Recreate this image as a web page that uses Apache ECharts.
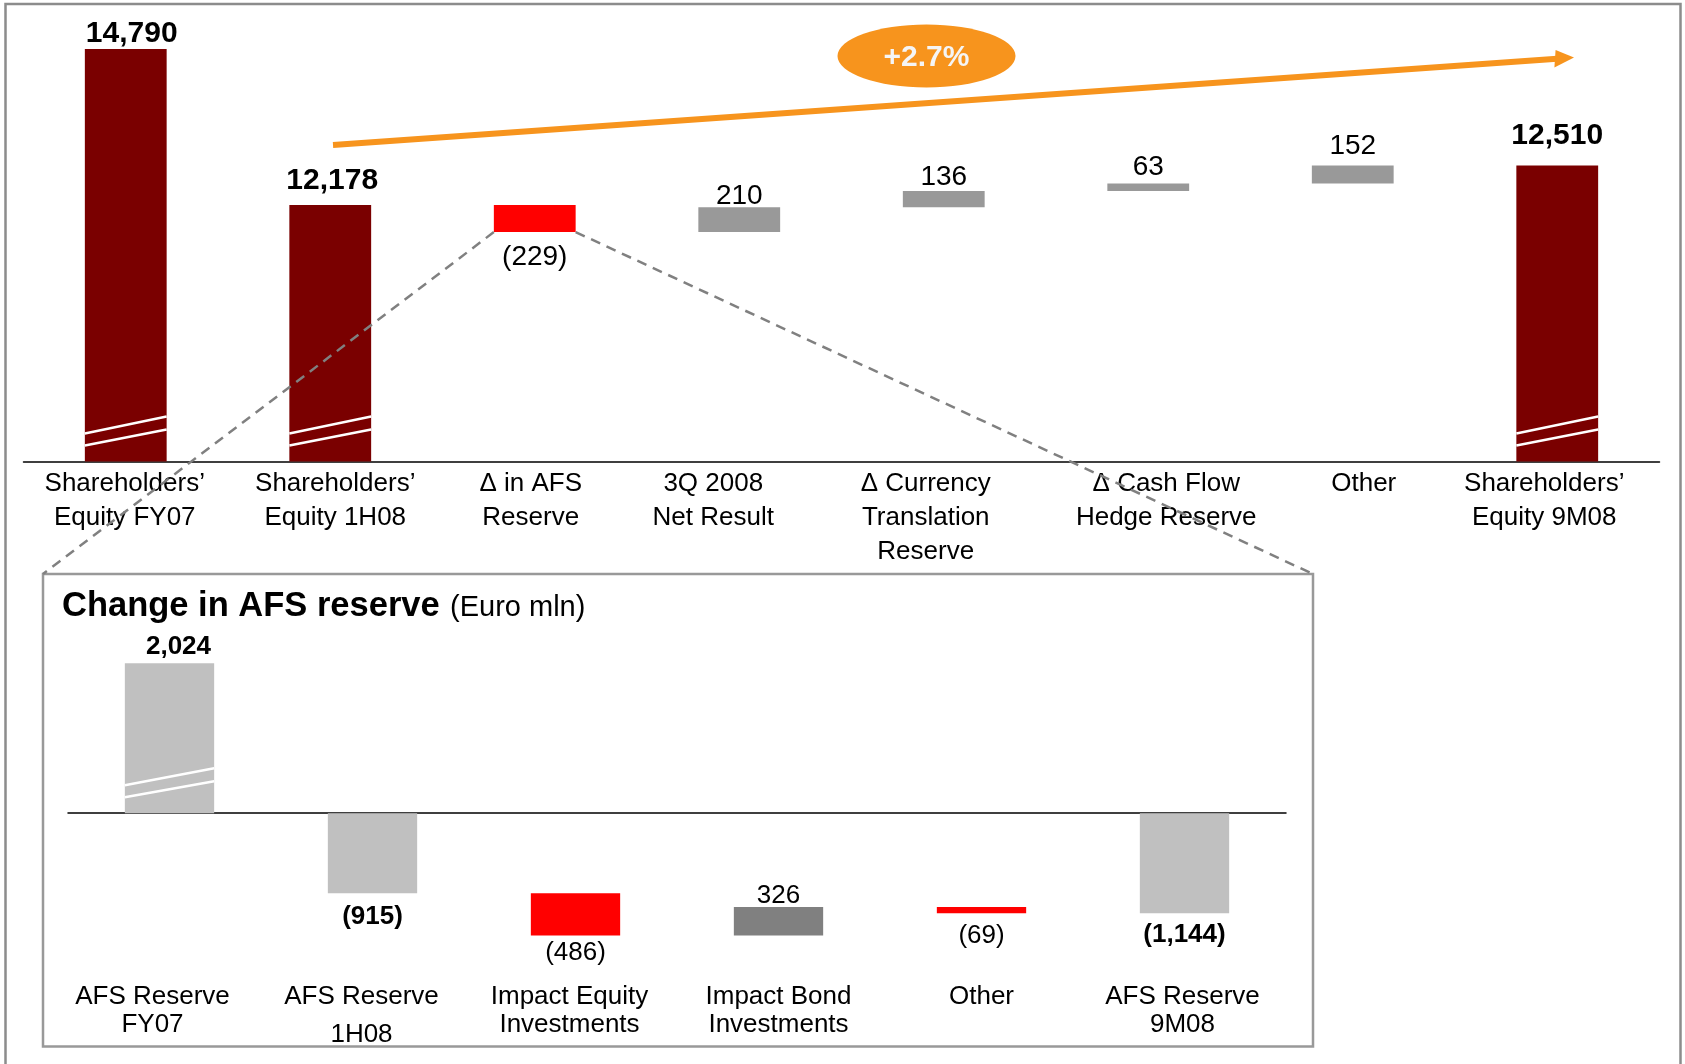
<!DOCTYPE html>
<html><head><meta charset="utf-8">
<script src="https://cdn.jsdelivr.net/npm/echarts@6.0.0/dist/echarts.min.js"></script>
<style>html,body{margin:0;padding:0;background:#fff}#c{width:1685px;height:1064px}</style>
</head><body><div id="c"></div>
<script>
// ---------- DATA ----------
const mainCategories = ['Shareholders’\nEquity FY07', 'Shareholders’\nEquity 1H08', 'Δ in AFS\nReserve', '3Q 2008\nNet Result', 'Δ Currency\nTranslation\nReserve', 'Δ Cash Flow\nHedge Reserve', 'Other', 'Shareholders’\nEquity 9M08'];
const mainValues = [14790, 12178, -229, 210, 136, 63, 152, 12510];
const mainIsTotal = [1, 1, 0, 0, 0, 0, 0, 1];

const afsCategories = ['AFS Reserve\nFY07', 'AFS Reserve\n1H08', 'Impact Equity\nInvestments', 'Impact Bond\nInvestments', 'Other', 'AFS Reserve\n9M08'];
const afsValues = [2024, -915, -486, 326, -69, -1144];
const afsIsTotal = [1, 1, 0, 0, 0, 1];

const insetTitle = 'Change in AFS reserve';
const insetUnit = '(Euro mln)';

// ---------- LAYOUT / STYLE ----------
const FONT = '"Liberation Sans", Arial, Helvetica, sans-serif';
const mainBreaks = [{start: 300, end: 10313, gap: 0}, {start: 12600, end: 13896, gap: 0}];
const afsBreaks = [{start: 300, end: 609, gap: 0}];
const breakMarks = [[16, 32], [28, 45]];
const mainLabelDy = [-15, -24, 25, -11, -14, -16, -19, -30];
const mainLabelDxV = [6, 2, 0, 0, 0, 0, 0, 0];
const afsLabelDy = [-16, 24, 17.5, -11, 23, 21.5];
const afsLabelDxV = [9, 0, 0, 0, 0, 0];
const mainLabelDx = [-1, 5, -4, -26, -18, 18, 11, -13];
const afsLabelDx = [-17, -11, -6, 0, 0, -2];
const afsLine2Extra = [0, 10, 0, 0, 0, 0];

const fmtNum = v => { const s = Math.abs(v).toLocaleString('en-US'); return v < 0 ? '(' + s + ')' : s; };

function waterfallRows(values, isTotal) {
  const rows = []; let run = 0;
  values.forEach((v, i) => {
    let lo, hi;
    if (isTotal[i]) { lo = Math.min(0, v); hi = Math.max(0, v); run = v; }
    else { const s = run; run += v; lo = Math.min(s, run); hi = Math.max(s, run); }
    rows.push([i, lo, hi, v, isTotal[i]]);
  });
  return rows;
}
const mainRows = waterfallRows(mainValues, mainIsTotal);
const afsRows = waterfallRows(afsValues, afsIsTotal);

function makeRender(cfg) {
  return function (params, api) {
    const i = api.value(0), lo = api.value(1), hi = api.value(2), v = api.value(3), tot = api.value(4);
    const pLo = api.coord([i, lo]), pHi = api.coord([i, hi]);
    const bw = api.size([1, 0])[0] * cfg.barRatio;
    const x0 = pLo[0] - bw / 2;
    const color = tot ? cfg.totalColor : (v < 0 ? cfg.negColor : cfg.posColor);
    const children = [{type: 'rect', shape: {x: x0, y: pHi[1], width: bw, height: Math.max(1, pLo[1] - pHi[1])}, style: {fill: color}}];
    if (cfg.breaks.some(b => lo < b.start && hi > b.end)) {
      const yb = api.coord([i, 0])[1];
      breakMarks.forEach(m => children.push({type: 'line', shape: {x1: x0, y1: yb - m[0], x2: x0 + bw, y2: yb - m[1]}, style: {stroke: '#fff', lineWidth: 2.5}}));
    }
    const yLab = (v >= 0 ? pHi[1] : pLo[1]) + cfg.labelDy[i];
    children.push({type: 'text', x: pLo[0] + cfg.labelDx[i], y: yLab, style: {text: fmtNum(v), fill: '#000', fontSize: tot ? cfg.totalFont : cfg.valueFont, fontWeight: tot ? 'bold' : 'normal', fontFamily: FONT, align: 'center', verticalAlign: 'middle'}});
    return {type: 'group', children};
  };
}

function richFor(dxs, fontSize, lineHeight, extra) {
  const r = {};
  dxs.forEach((dx, i) => {
    const pad = dx >= 0 ? [0, 0, 0, 2 * dx] : [0, -2 * dx, 0, 0];
    r['a' + i] = {fontSize, lineHeight, fontFamily: FONT, color: '#000', padding: pad};
    r['b' + i] = {fontSize, lineHeight: lineHeight + 2 * (extra ? extra[i] : 0), fontFamily: FONT, color: '#000', padding: pad};
  });
  return r;
}
const labelFmt = (val, idx) => String(val).split('\n').map((l, k) => `{${k > 0 ? 'b' : 'a'}${idx}|${l}}`).join('\n');

const chart = echarts.init(document.getElementById('c'), null, {renderer: 'canvas'});
const option = {
  backgroundColor: '#fff',
  animation: false,
  grid: [
    {left: 23.5, right: 25.5, top: 49, bottom: 602.5, containLabel: false, outerBoundsMode: 'none'},
    {left: 68, right: 399, top: 663.3, bottom: 128.4, containLabel: false, outerBoundsMode: 'none'}
  ],
  xAxis: [
    {type: 'category', gridIndex: 0, data: mainCategories,
     axisLine: {lineStyle: {color: '#000', width: 1.5}}, axisTick: {show: false},
     axisLabel: {interval: 0, margin: 5, fontSize: 26, lineHeight: 34, color: '#000', fontFamily: FONT,
                 formatter: labelFmt, rich: richFor(mainLabelDx, 26, 34)}},
    {type: 'category', gridIndex: 1, data: afsCategories,
     axisLine: {onZero: true, lineStyle: {color: '#000', width: 1.5}}, axisTick: {show: false},
     axisLabel: {interval: 0, margin: 47.5, fontSize: 26, lineHeight: 28, color: '#000', fontFamily: FONT,
                 formatter: labelFmt, rich: richFor(afsLabelDx, 26, 28, afsLine2Extra)}}
  ],
  yAxis: [
    {type: 'value', gridIndex: 0, min: 0, max: 14790, show: false, splitLine: {show: false},
     breaks: mainBreaks, breakArea: {show: false}},
    {type: 'value', gridIndex: 1, min: -1401, max: 2024, show: false, splitLine: {show: false},
     breaks: afsBreaks, breakArea: {show: false}}
  ],
  series: [
    {type: 'custom', xAxisIndex: 0, yAxisIndex: 0, data: mainRows, encode: {x: 0, y: [1, 2]}, silent: true, z: 3,
     renderItem: makeRender({barRatio: 0.4, totalColor: '#7A0000', negColor: '#FF0000', posColor: '#999999', breaks: mainBreaks, labelDy: mainLabelDy, labelDx: mainLabelDxV, totalFont: 30, valueFont: 28})},
    {type: 'custom', xAxisIndex: 1, yAxisIndex: 1, data: afsRows, encode: {x: 0, y: [1, 2]}, silent: true, z: 3,
     renderItem: makeRender({barRatio: 0.44, totalColor: '#C0C0C0', negColor: '#FF0000', posColor: '#808080', breaks: afsBreaks, labelDy: afsLabelDy, labelDx: afsLabelDxV, totalFont: 26, valueFont: 26})}
  ]
};
chart.setOption(option);

// ---------- DECORATIONS ----------
const afsIdx = mainCategories.findIndex(c => c.indexOf('AFS') >= 0);
const afsRow = mainRows[afsIdx];
const pBot = chart.convertToPixel({gridIndex: 0}, [afsIdx, afsRow[1]]);
const band = chart.convertToPixel({gridIndex: 0}, [afsIdx + 1, 0])[0] - chart.convertToPixel({gridIndex: 0}, [afsIdx, 0])[0];
const half = band * 0.4 / 2;
const box = {x: 43, y: 574, w: 1270, h: 472.5};
const growth = ((mainValues[mainValues.length - 1] / mainValues[1]) - 1) * 100;
const growthText = (growth >= 0 ? '+' : '') + growth.toFixed(1) + '%';
const ORANGE = '#F7941D';

chart.setOption({
  graphic: [
    {type: 'rect', id: 'frame', z: 0, silent: true, shape: {x: 5.5, y: 4, width: 1675, height: 1080}, style: {fill: 'none', stroke: '#8c8c8c', lineWidth: 2.5}},
    {type: 'rect', id: 'inset', z: 0, silent: true, shape: {x: box.x, y: box.y, width: box.w, height: box.h}, style: {fill: 'none', stroke: '#999999', lineWidth: 2.5}},
    {type: 'text', id: 't1', z: 10, silent: true, x: 62, y: 606, style: {text: insetTitle, fontSize: 34.5, fontWeight: 'bold', fontFamily: FONT, fill: '#000', align: 'left', verticalAlign: 'middle'}},
    {type: 'text', id: 't2', z: 10, silent: true, x: 450, y: 608, style: {text: insetUnit, fontSize: 29, fontFamily: FONT, fill: '#000', align: 'left', verticalAlign: 'middle'}},
    {type: 'line', id: 'arrowLine', z: 10, silent: true, shape: {x1: 333, y1: 145, x2: 1557, y2: 58.8}, style: {stroke: ORANGE, lineWidth: 6}},
    {type: 'polygon', id: 'arrowHead', z: 10, silent: true, shape: {points: [[1555.6, 50], [1554.4, 67.5], [1574, 57.5]]}, style: {fill: ORANGE}},
    {type: 'ellipse', id: 'ell', z: 10, silent: true, shape: {cx: 926.5, cy: 56, rx: 89, ry: 31.5}, style: {fill: ORANGE}},
    {type: 'text', id: 'ellT', z: 11, silent: true, x: 926.5, y: 58, style: {text: growthText, fontSize: 30, fontWeight: 'bold', fontFamily: FONT, fill: '#F5F5F5', align: 'center', verticalAlign: 'middle'}},
    {type: 'line', id: 'dashL', z: 20, silent: true, shape: {x1: pBot[0] - half, y1: pBot[1], x2: box.x, y2: box.y}, style: {stroke: '#808080', lineWidth: 2.5, lineDash: [10, 7]}},
    {type: 'line', id: 'dashR', z: 20, silent: true, shape: {x1: pBot[0] + half, y1: pBot[1], x2: box.x + box.w, y2: box.y}, style: {stroke: '#808080', lineWidth: 2.5, lineDash: [10, 7]}}
  ]
});
</script>
</body></html>
